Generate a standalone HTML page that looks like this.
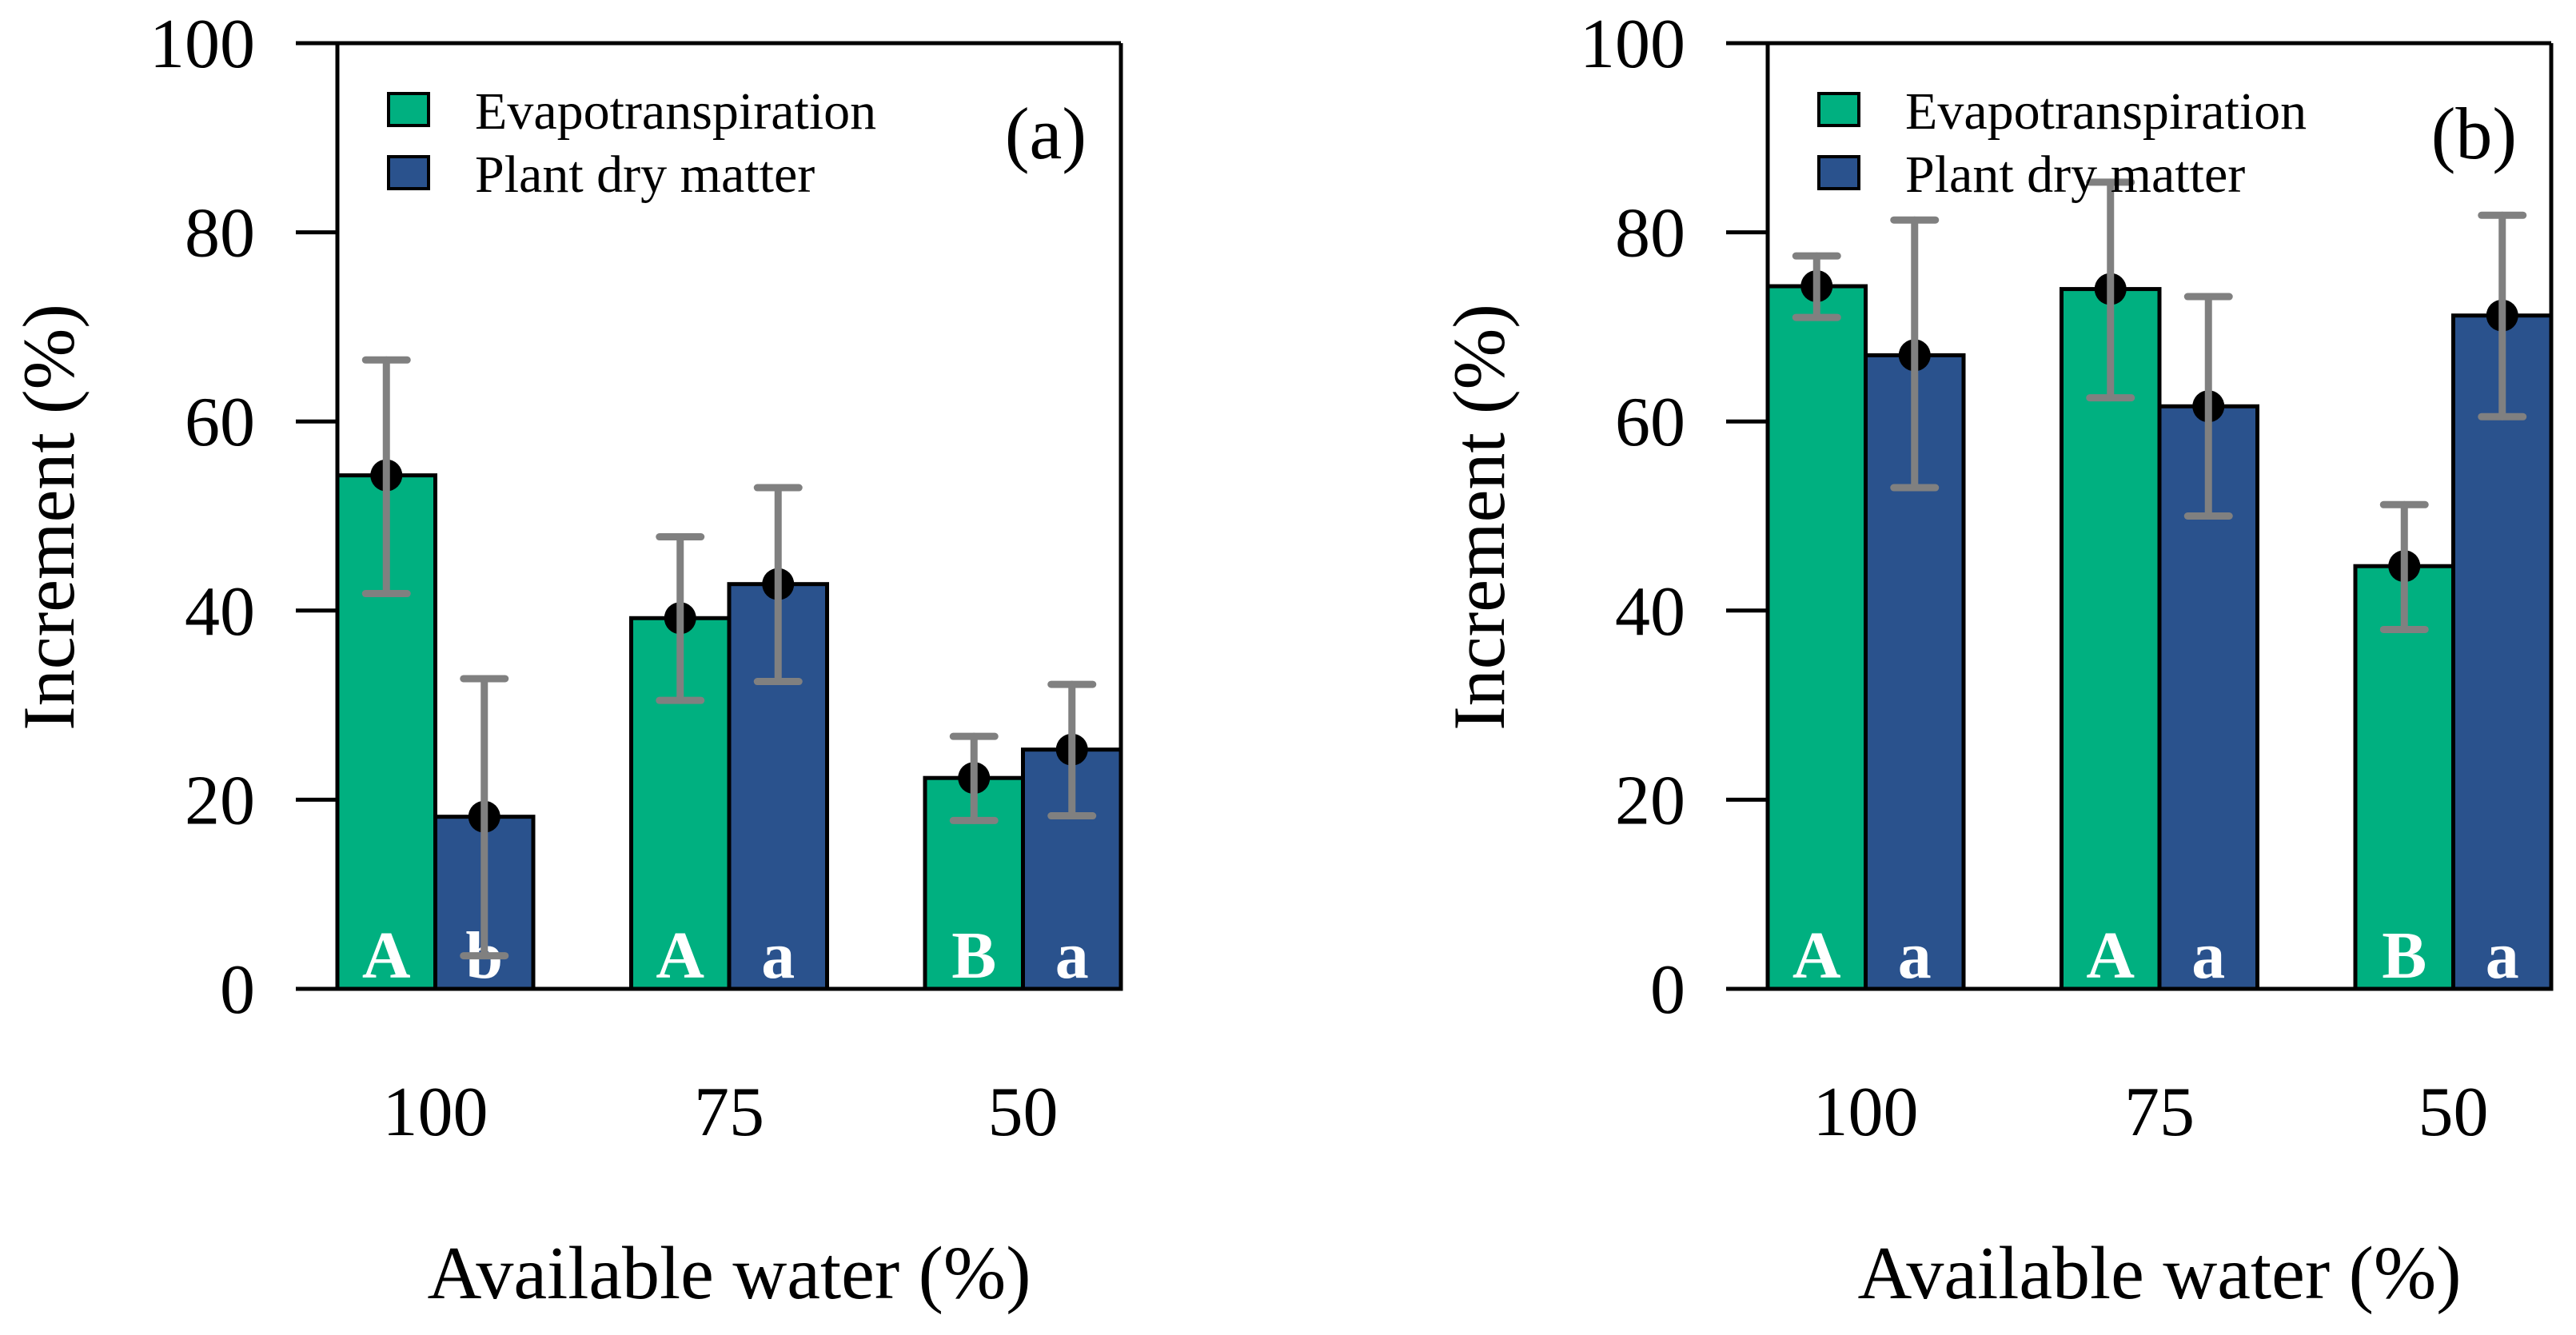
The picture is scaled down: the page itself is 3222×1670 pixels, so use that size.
<!DOCTYPE html>
<html><head><meta charset="utf-8"><style>
html,body{margin:0;padding:0;background:#fff}
svg{display:block}
text{font-family:"Liberation Serif",serif;fill:#000}
</style></head><body>
<svg id="chart" width="3222" height="1670" viewBox="0 0 3222 1670" xmlns="http://www.w3.org/2000/svg"></svg>
<script>
const categories = ["100","75","50"];
const yTicks = [0,20,40,60,80,100];
const seriesNames = ["Evapotranspiration","Plant dry matter"];
const aEt = [54.3,39.2,22.3];
const aEtLo = [41.8,30.5,17.8];
const aEtHi = [66.5,47.8,26.7];
const aPdm = [18.2,42.8,25.3];
const aPdmLo = [3.5,32.5,18.3];
const aPdmHi = [32.8,53.0,32.2];
const aEtLetters = ["A","A","B"];
const aPdmLetters = ["b","a","a"];
const bEt = [74.3,74.0,44.7];
const bEtLo = [71.0,62.5,38.0];
const bEtHi = [77.5,85.3,51.2];
const bPdm = [67.0,61.6,71.2];
const bPdmLo = [53.0,50.0,60.5];
const bPdmHi = [81.3,73.2,81.8];
const bEtLetters = ["A","A","B"];
const bPdmLetters = ["a","a","a"];

const NS="http://www.w3.org/2000/svg";
const svg=document.getElementById('chart');
function mk(tag,attrs,parent,txt){const e=document.createElementNS(NS,tag);for(const k in attrs)e.setAttribute(k,attrs[k]);if(txt!==undefined)e.textContent=txt;(parent||svg).appendChild(e);return e;}
const COLORS=["#00b080","#2a528d"];
const TOP=54,BOT=1237,W=980;

function panel(id,x0,label,et,etLo,etHi,pdm,pdmLo,pdmHi,etL,pdmL){
  const g=mk('g',{});
  
  
  const y=v=>BOT-(v/100)*(BOT-TOP);
  const bw=W/8;
  const gx=i=>x0+i*3*bw;
  const series=[[et,etLo,etHi,etL],[pdm,pdmLo,pdmHi,pdmL]];
  series.forEach((s,si)=>{
    categories.forEach((c,i)=>{
      const bx=gx(i)+si*bw;
      const r=mk('rect',{x:bx,y:y(s[0][i]),width:bw,height:BOT-y(s[0][i]),fill:COLORS[si],stroke:'#000','stroke-width':5},g);
      
      
    });
  });
  series.forEach((s,si)=>{
    categories.forEach((c,i)=>{
      const cx=gx(i)+si*bw+bw/2;
      const t=mk('text',{x:cx,y:1223,'text-anchor':'middle','font-size':84,'font-weight':'bold',style:'fill:#fff'},g,s[3][i]);
      
      
      const d=mk('circle',{cx:cx,cy:y(s[0][i]),r:20,fill:'#000'},g);
      
      
      const eb=mk('g',{stroke:'#808080','stroke-width':9,'stroke-linecap':'round'},g);
      
      
      mk('line',{x1:cx,x2:cx,y1:y(s[1][i]),y2:y(s[2][i])},eb);
      mk('line',{x1:cx-26,x2:cx+26,y1:y(s[1][i]),y2:y(s[1][i])},eb);
      mk('line',{x1:cx-26,x2:cx+26,y1:y(s[2][i]),y2:y(s[2][i])},eb);
    });
  });
  const ax=mk('g',{stroke:'#000','stroke-width':5,fill:'none'},g);
  
  
  mk('line',{x1:x0,x2:x0,y1:TOP,y2:BOT},ax);
  mk('line',{x1:x0+W,x2:x0+W,y1:TOP,y2:BOT},ax);
  mk('line',{x1:x0-52,x2:x0+W,y1:TOP,y2:TOP},ax);
  mk('line',{x1:x0-52,x2:x0+W,y1:BOT,y2:BOT},ax);
  yTicks.forEach(v=>{
    mk('line',{x1:x0-52,x2:x0,y1:y(v),y2:y(v)},ax);
    const t=mk('text',{x:x0-103,y:y(v)+30,'text-anchor':'end','font-size':88},g,String(v));
    
    
  });
  categories.forEach((c,i)=>{
    const t=mk('text',{x:gx(i)+bw,y:1420,'text-anchor':'middle','font-size':88},g,c);
    
    
  });
  const yt=mk('text',{x:0,y:0,'text-anchor':'middle','font-size':92,transform:`translate(${x0-330},647) rotate(-90)`},g,'Increment (%)');
  
  
  const xt=mk('text',{x:x0+490,y:1624,'text-anchor':'middle','font-size':94},g,'Available water (%)');
  
  
  seriesNames.forEach((n,si)=>{
    const ly=117+si*79;
    const sq=mk('rect',{x:x0+64,y:ly,width:50,height:40,fill:COLORS[si],stroke:'#000','stroke-width':4},g);
    
    
    const t=mk('text',{x:x0+172,y:ly+44,'font-size':66},g,n);
    
    
  });
  const pl=mk('text',{x:x0+937,y:198,'text-anchor':'end','font-size':92},g,label);
  
  
}
panel('a',422,'(a)',aEt,aEtLo,aEtHi,aPdm,aPdmLo,aPdmHi,aEtLetters,aPdmLetters);
panel('b',2211,'(b)',bEt,bEtLo,bEtHi,bPdm,bPdmLo,bPdmHi,bEtLetters,bPdmLetters);
</script>
</body></html>
